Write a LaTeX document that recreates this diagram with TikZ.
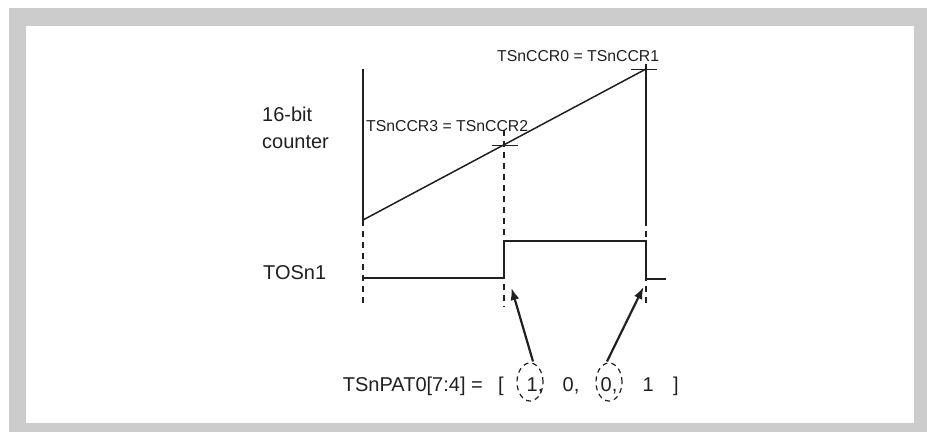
\documentclass[tikz,border=0pt]{standalone}
\usepackage{fontspec}
\setmainfont{Liberation Sans}
\usetikzlibrary{arrows.meta,shapes.geometric}
\definecolor{framegray}{HTML}{CCCCCC}
\definecolor{ink}{HTML}{231F20}
\begin{document}
\begin{tikzpicture}[x=1pt,y=-1pt,
  wave/.style={draw=ink,line width=1.5pt},
  dashline/.style={draw=ink,line width=1.5pt,dash pattern=on 6pt off 5pt},
  tickline/.style={draw=ink,line width=1pt},
  ptr/.style={draw=ink,line width=2.2pt,-{Latex[length=12pt,width=9pt]}},
  lbl/.style={inner sep=0pt,anchor=base west,text=ink},
  big/.style={lbl,font=\fontsize{20}{27}\selectfont},
  small/.style={lbl,font=\fontsize{15.8}{19}\selectfont},
  ring/.style={draw=ink,line width=1.2pt,dash pattern=on 5pt off 4pt,ellipse,minimum width=26pt,minimum height=38pt,inner sep=0pt}
]
\useasboundingbox (0,0) rectangle (927,432);
\fill[framegray] (9,8) rectangle (927,432);
\fill[white] (26,26) rectangle (914,423);

% key coordinates
\coordinate (Ltop) at (363,69);
\coordinate (Lmid) at (363,220);
\coordinate (Lbot) at (363,307);
\coordinate (Rtop) at (646,64);
\coordinate (Rmid) at (646,220);
\coordinate (Rbot) at (646,307);
\coordinate (Mtop) at (504,130);
\coordinate (Mbot) at (504,307);
\coordinate (RampA) at (363,220);
\coordinate (RampB) at (646,69);
\coordinate (TkAl) at (492,145);
\coordinate (TkAr) at (518,145);
\coordinate (TkBl) at (631,69);
\coordinate (TkBr) at (657,69);
\coordinate (W0) at (363,278);
\coordinate (W1) at (504,278);
\coordinate (W2) at (504,241);
\coordinate (W3) at (646,241);
\coordinate (W4) at (646,279);
\coordinate (W5) at (666,279);
\coordinate (TipA) at (511.5,288);
\coordinate (TipB) at (643.5,287);

% verticals
\draw[wave] (Ltop) -- (Lmid);
\draw[dashline] (Lmid) -- (Lbot);
\draw[wave] (Rtop) -- (Rmid);
\draw[dashline] (Rmid) -- (Rbot);
\draw[dashline] (Mtop) -- (Mbot);

% ramp
\draw[wave] (RampA) -- (RampB);
\draw[tickline] (TkAl) -- (TkAr);
\draw[tickline] (TkBl) -- (TkBr);

% waveform
\draw[wave] (W0) -- (W1) -- (W2) -- (W3) -- (W4) -- (W5);

% labels
\node[small] (ccr0) at (497,61) {TSnCCR0 = TSnCCR1};
\node[small] (ccr3) at (366,131) {TSnCCR3 = TSnCCR2};
\node[big,align=left] (cnt) at (262,148) {16-bit\\counter};
\node[big] (tos) at (263,279) {TOSn1};

% pattern
\node[big] (pat) at (342.7,391) {TSnPAT0[7:4] = };
\node[big] (lb) at (498,391) {[};
\node[big] (b1) at (526.5,391) {1,};
\node[big] (b2) at (562.5,391) {0,};
\node[big] (b3) at (600.5,391) {0,};
\node[big] (b4) at (642.5,391) {1};
\node[big] (rb) at (673,391) {]};
\node[ring] (e1) at (530,382) {};
\node[ring] (e2) at (609,382) {};

% pointers
\draw[ptr] (e1.north) ++(3,-1) -- (TipA);
\draw[ptr] (e2.north) ++(-2,-1) -- (TipB);
\end{tikzpicture}
\end{document}
